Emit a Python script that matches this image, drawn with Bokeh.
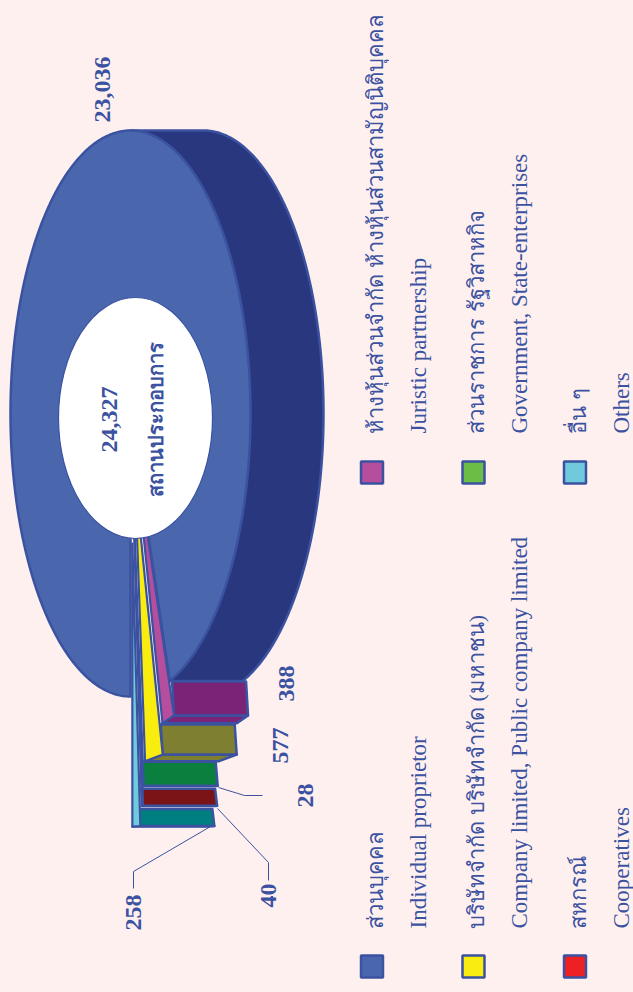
import numpy as np
from bokeh.plotting import figure
from bokeh.core.properties import value
from bokeh.embed import file_html
from bokeh.resources import INLINE

# ---- data ----
slice_names = ["อื่น ๆ", "สหกรณ์", "ส่วนราชการ รัฐวิสาหกิจ", "บริษัทจำกัด บริษัทจำกัด (มหาชน)", "ห้างหุ้นส่วนจำกัด ห้างหุ้นส่วนสามัญนิติบุคคล"]
slice_values = [258, 40, 28, 577, 388]
main_value = 23036
total_value = 24327
center_label = "สถานประกอบการ"

legend_left_th = ["ส่วนบุคคล", "บริษัทจำกัด บริษัทจำกัด (มหาชน)", "สหกรณ์"]
legend_left_en = ["Individual proprietor", "Company limited, Public company limited", "Cooperatives"]
legend_right_th = ["ห้างหุ้นส่วนจำกัด ห้างหุ้นส่วนสามัญนิติบุคคล", "ส่วนราชการ รัฐวิสาหกิจ", "อื่น ๆ"]
legend_right_en = ["Juristic partnership", "Government, State-enterprises", "Others"]

# ---- style and layout ----
BG = "#fff0f0"
INK = "#3b52a1"
FRONT = "#4a67ae"
BACK = "#29377f"
top_colors = ["#6ecadc", "#ed2024", "#6abd45", "#f9ed0f", "#b44e9d"]
flank_colors = ["#007f80", "#7b1416", "#0a7f3e", "#7f7f32", "#7b2377"]
legend_left_colors = [FRONT, "#f9ed0f", "#ed2024"]
legend_right_colors = ["#b44e9d", "#6abd45", "#6ecadc"]
explode = [0.46, 0.39, 0.32, 0.235, 0.127]
flank_h = [17, 17, 24, 30, 34]
CX, CY, RX, RY, DEPTH = 130, 413, 120, 283, 73
TEXT_DX = -9.5

p = figure(width=633, height=992, x_range=(0, 633), y_range=(992, 0),
           output_backend="svg", toolbar_location=None, min_border=0,
           background_fill_color=BG, border_fill_color=BG, outline_line_color=None)
p.axis.visible = False
p.grid.visible = False


def pt(theta_deg, r=1.0, dx=0.0, dy=0.0):
    t = np.radians(theta_deg)
    return CX + RX * r * np.sin(t) + dx, CY + RY * r * np.cos(t) + dy


edges = np.cumsum([0] + slice_values) / total_value * 360
main_start = edges[-1]

# extruded body of the big slice
th = np.linspace(180, main_start, 200)
bx, by = pt(th, dx=DEPTH)
fx0, fy0 = pt(180)
fx1, fy1 = pt(main_start)
p.patch(np.r_[fx0, bx, fx1], np.r_[fy0, by, fy1], fill_color=BACK, line_color=INK, line_width=2.5, line_join="round")

# front face of the big slice
th = np.linspace(main_start, 360, 400)
fx, fy = pt(th)
p.patch(np.r_[CX, fx], np.r_[CY, fy], fill_color=FRONT, line_color=INK, line_width=2.5, line_join="round")

# exploded small slices: flanks first, biggest reach last
for i in reversed(range(len(slice_values))):
    a0, a1 = edges[i], edges[i + 1]
    am = (a0 + a1) / 2
    ox = RX * np.sin(np.radians(am)) * explode[i]
    oy = RY * np.cos(np.radians(am)) * explode[i]
    lx, ly = pt(a0, dx=ox, dy=oy)
    rx, ry = pt(a1, dx=ox, dy=oy)
    D = DEPTH + 1
    h = flank_h[i]
    p.patch([lx, rx, rx + D, lx + D], [ly, ry, ry, ly], fill_color=flank_colors[i], line_color=INK, line_width=2.5, line_join="round")
    p.patch([rx, rx + D, rx + D - 2, rx - 2], [ry, ry, ry - h, ry - h], fill_color=flank_colors[i], line_color=INK, line_width=2.5, line_join="round")

for i in reversed(range(len(slice_values))):
    a0, a1 = edges[i], edges[i + 1]
    am = (a0 + a1) / 2
    ox = RX * np.sin(np.radians(am)) * explode[i]
    oy = RY * np.cos(np.radians(am)) * explode[i]
    lx, ly = pt(a0, dx=ox, dy=oy)
    rx, ry = pt(a1, dx=ox, dy=oy)
    p.patch([CX + ox, lx, rx], [CY + oy, ly, ry], fill_color=top_colors[i], line_color=INK, line_width=2.2, line_join="round")

# hole
p.ellipse([135], [417.5], width=154, height=241, fill_color="white", line_color=INK, line_width=1.2)

# leader lines
p.line([218, 244, 262], [787, 795, 795], line_color=INK, line_width=1)
p.line([217, 268, 268], [808, 862, 880], line_color=INK, line_width=1)
p.line([210, 133, 133], [826, 871, 888], line_color=INK, line_width=1)


def label(x, y, s, size, style="normal"):
    p.text([x + TEXT_DX], [y], text=[s], angle=np.pi / 2, text_font=value("Liberation Serif"), text_font_size=size,
           text_font_style=style, text_color=INK, text_align="left", text_baseline="alphabetic")


label(111, 122, f"{main_value:,}", "24px", "bold")
label(142, 930, f"{slice_values[0]:,}", "24px", "bold")
label(277, 907, f"{slice_values[1]:,}", "24px", "bold")
label(314, 807, f"{slice_values[2]:,}", "24px", "bold")
label(289, 763, f"{slice_values[3]:,}", "24px", "bold")
label(295, 701, f"{slice_values[4]:,}", "24px", "bold")
label(118, 452, f"{total_value:,}", "24px", "bold")
label(165, 496, center_label, "20px", "bold")

# legend
for col_y, th_names, en_names, colors in [
    (928, legend_left_th, legend_left_en, legend_left_colors),
    (433, legend_right_th, legend_right_en, legend_right_colors),
]:
    sq_y = col_y + 38 if col_y > 500 else col_y + 39
    for k, (t, e, c) in enumerate(zip(th_names, en_names, colors)):
        sx = 371.5 + k * 101.5
        p.rect([sx], [sq_y], width=22, height=22, fill_color=c, line_color=INK, line_width=2.5)
        label(384 + k * 101.5, col_y, t, "22px")
        label(427 + k * 101.5, col_y, e, "23px")

html = file_html(p, INLINE)
html = html.replace("<head>", f"<head><style>html,body{{background:{BG};}}</style>", 1)
open("out.html", "w").write(html)
